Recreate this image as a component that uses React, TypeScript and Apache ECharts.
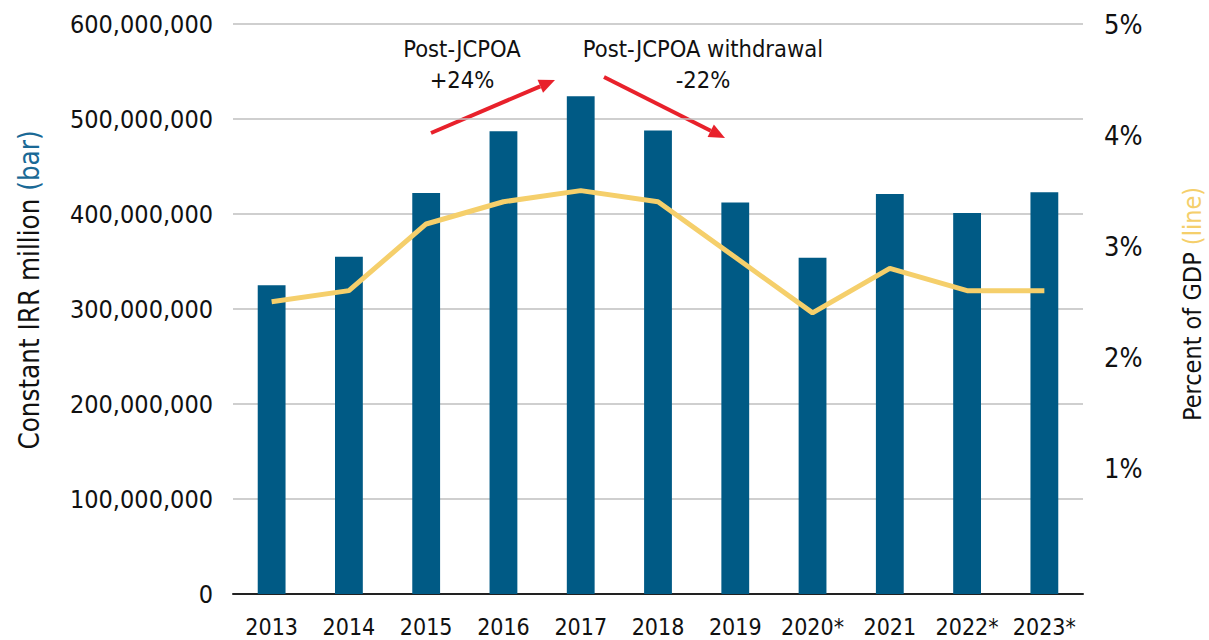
import React, { useEffect, useRef } from "react";
import * as echarts from "echarts";

const categories = ["2013", "2014", "2015", "2016", "2017", "2018", "2019", "2020*", "2021", "2022*", "2023*"];
const spending = [325000000, 355000000, 422000000, 487000000, 524000000, 488000000, 412000000, 354000000, 421000000, 401000000, 423000000];
const gdpShare = [2.5, 2.6, 3.2, 3.4, 3.5, 3.4, 2.9, 2.4, 2.8, 2.6, 2.6];
const leftTicks = { min: 0, max: 600000000, interval: 100000000 };
const rightTicks = { min: 0, max: 5, interval: 1 };
const annotations = [
  { lines: ["Post-JCPOA", "+24%"], cx: 462 },
  { lines: ["Post-JCPOA withdrawal", "-22%"], cx: 703 },
];
const leftTitle = ["Constant IRR million ", "(bar)"];
const rightTitle = ["Percent of GDP ", "(line)"];

const FONT = "'DejaVu Sans Condensed', 'Liberation Sans Narrow', 'Roboto Condensed', sans-serif";
const BAR = "#005a85";
const LINE = "#f5cf6b";
const RED = "#e8212b";

function arrow(x1: number, y1: number, x2: number, y2: number) {
  const ang = Math.atan2(y2 - y1, x2 - x1);
  const L = 16, W = 7;
  const bx = x2 - L * Math.cos(ang), by = y2 - L * Math.sin(ang);
  const px = -Math.sin(ang) * W, py = Math.cos(ang) * W;
  return [
    { type: "line", shape: { x1, y1, x2: bx, y2: by }, style: { stroke: RED, lineWidth: 4 } },
    { type: "polygon", shape: { points: [[x2, y2], [bx + px, by + py], [bx - px, by - py]] }, style: { fill: RED } },
  ];
}

function title(parts: string[], x: number, y: number, size: number, accent: string) {
  return {
    type: "text", x, y, rotation: Math.PI / 2,
    style: {
      text: `{a|${parts[0]}}{b|${parts[1]}}`,
      align: "center", verticalAlign: "middle",
      rich: {
        a: { fill: "#111", fontSize: size, fontFamily: FONT },
        b: { fill: accent, fontSize: size, fontFamily: FONT },
      },
    },
  };
}

export default function App() {
  const ref = useRef<HTMLDivElement>(null);
  useEffect(() => {
    const chart = echarts.init(ref.current!, null, { renderer: "svg" });
    const fmt = (v: number) => v.toLocaleString("en-US");
    chart.setOption({
      animation: false,
      textStyle: { fontFamily: FONT },
      grid: [
        { left: 233, right: 126, top: 24, bottom: 46, outerBoundsMode: "none" },
        { left: 233, right: 126, top: 24, bottom: 60.5, outerBoundsMode: "none" },
      ],
      xAxis: [
        {
          type: "category", gridIndex: 0, data: categories,
          axisLine: { lineStyle: { color: "#222", width: 2 } },
          axisTick: { show: false },
          axisLabel: { color: "#111", fontSize: 23, margin: 21, fontFamily: FONT, interval: 0 },
        },
        { type: "category", gridIndex: 1, data: categories, show: false },
      ],
      yAxis: [
        {
          type: "value", gridIndex: 0, ...leftTicks,
          axisLine: { show: false }, axisTick: { show: false },
          axisLabel: { color: "#111", fontSize: 25, margin: 20, fontFamily: FONT, formatter: fmt },
          splitLine: { lineStyle: { color: "#bfbfbf", width: 1.5 } },
        },
        {
          type: "value", gridIndex: 1, position: "right", ...rightTicks,
          axisLine: { show: false }, axisTick: { show: false }, splitLine: { show: false },
          axisLabel: {
            color: "#111", fontSize: 27, margin: 21, fontFamily: FONT,
            formatter: (v: number) => (v === 0 ? "" : v + "%"),
          },
        },
      ],
      series: [
        {
          type: "bar", xAxisIndex: 0, yAxisIndex: 0, data: spending, barWidth: "36%",
          itemStyle: { color: BAR }, z: 2,
        },
        {
          type: "line", xAxisIndex: 1, yAxisIndex: 1, data: gdpShare, symbol: "none",
          lineStyle: { color: LINE, width: 5 }, z: 3,
        },
      ],
      graphic: [
        title(leftTitle, 29, 290, 27.5, "#1a6996"),
        title(rightTitle, 1192, 304, 25, LINE),
        ...annotations.map((a) => ({
          type: "text", x: a.cx, y: 33,
          style: {
            text: a.lines.join("\n"), fill: "#111", fontSize: 23.5, fontFamily: FONT,
            align: "center", lineHeight: 31,
          },
        })),
        ...arrow(431, 133, 555, 80),
        ...arrow(604, 77, 725, 138),
      ],
    });
    return () => chart.dispose();
  }, []);
  return <div ref={ref} style={{ position: "fixed", left: 0, top: 0, width: 1209, height: 640, background: "#fff" }} />;
}
